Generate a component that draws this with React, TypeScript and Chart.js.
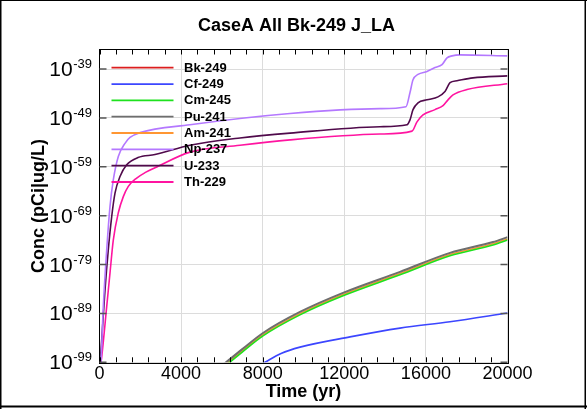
import { useEffect, useRef } from "react";
import { Chart, registerables } from "chart.js";

Chart.register(...registerables);

const FONT = "'Liberation Sans', Arial, Helvetica, sans-serif";

const TITLE = "CaseA All Bk-249 J_LA";
const X_LABEL = "Time (yr)";
const Y_LABEL = "Conc (pCi|ug/L)";

const SERIES_NAMES = ["Bk-249", "Cf-249", "Cm-245", "Pu-241", "Am-241", "Np-237", "U-233", "Th-229"];
const SERIES_COLORS = ["#dc1e1e", "#3c46ff", "#1ee11e", "#6e6e6e", "#ff9632", "#b478ff", "#500a4b", "#ff14a0"];

const X_TICKS = [0, 4000, 8000, 12000, 16000, 20000];
const X_MINOR_STEP = 800;
const Y_TICKS = [1e-99, 1e-89, 1e-79, 1e-69, 1e-59, 1e-49, 1e-39];
const Y_TICK_BASE = "10";
const Y_TICK_EXP = ["-99", "-89", "-79", "-69", "-59", "-49", "-39"];
const Y_MIN = 1e-99;
const Y_MAX = 1e-35;

// Bk-249 stays below the plotted range
const bk249Time = [0, 20000];
const bk249Conc = [1e-110, 1e-110];

const cf249Time = [7600, 8110, 8900, 9828, 12279, 14730, 17182, 20000];
const cf249Conc = [6.3e-101, 1e-99, 6.3e-98, 1.26e-96, 1.58e-94, 1e-92, 2e-91, 1.26e-89];

const cm245Time = [5800, 6200, 7000, 8015, 9828, 11936, 14730, 17182, 19290, 20000];
const cm245Conc = [1.58e-101, 2.5e-100, 1.26e-97, 2.5e-94, 5e-90, 4e-86, 7.9e-82, 6.3e-78, 1e-75, 1e-74];

const pu241Time = [5800, 6200, 7000, 8015, 9828, 11936, 14730, 17182, 19290, 20000];
const pu241Conc = [6.3e-101, 1e-99, 5e-97, 1e-93, 2e-89, 1.58e-85, 3.16e-81, 2.5e-77, 4e-75, 4e-74];

const am241Time = [5800, 6200, 7000, 8015, 9828, 11936, 14730, 17182, 19290, 20000];
const am241Conc = [2.8e-101, 4.5e-100, 2.24e-97, 4.5e-94, 8.9e-90, 7.1e-86, 1.41e-81, 1.12e-77, 1.78e-75, 1.78e-74];

const np237Time = [0, 74, 186, 353, 515, 676, 922, 1250, 1495, 1985, 4436, 9338, 13750, 15025, 15221, 15368, 15613, 16054, 16446, 16790, 17035, 17280, 17672, 20000];
const np237Conc = [1e-101, 2e-99, 2.5e-88, 1e-76, 7.9e-68, 2e-62, 1.26e-57, 6.3e-55, 1e-53, 1e-52, 4e-51, 7.9e-49, 7.9e-48, 2e-47, 1.58e-44, 6.3e-42, 7.9e-41, 3.16e-40, 2e-39, 7.9e-39, 2e-37, 5e-37, 7.9e-37, 5e-37];

const u233Time = [0, 108, 270, 431, 598, 760, 1005, 1333, 1887, 2720, 4436, 6887, 9338, 13750, 15074, 15221, 15368, 15613, 16054, 16593, 16936, 17182, 17525, 18309, 20000];
const u233Conc = [1e-101, 4e-95, 6.3e-85, 1e-76, 6.3e-70, 4e-65, 1e-61, 2.5e-59, 7.9e-58, 3.16e-57, 2.5e-55, 7.9e-54, 7.9e-53, 1.58e-51, 4e-51, 4e-50, 5e-48, 1.26e-46, 5e-46, 2e-45, 2.5e-44, 1.58e-42, 4e-42, 1.58e-41, 4e-41];

const th229Time = [0, 108, 353, 515, 676, 922, 1167, 1412, 1824, 2230, 2720, 4436, 6887, 9338, 13750, 15319, 15564, 15858, 16446, 16838, 17084, 17329, 18015, 20000];
const th229Conc = [1e-101, 1.26e-98, 2.5e-88, 2e-81, 1e-74, 4e-69, 7.9e-66, 1e-63, 5e-62, 6.3e-61, 6.3e-60, 1e-56, 2.5e-55, 3.16e-54, 5e-53, 2e-52, 1.58e-50, 4e-49, 5e-48, 3.16e-47, 5e-46, 5e-45, 6.3e-44, 1e-42];

const SERIES_TIMES = [bk249Time, cf249Time, cm245Time, pu241Time, am241Time, np237Time, u233Time, th229Time];
const SERIES_VALUES = [bk249Conc, cf249Conc, cm245Conc, pu241Conc, am241Conc, np237Conc, u233Conc, th229Conc];
const SERIES_WIDTHS = [1.6, 1.6, 1.6, 2, 1.6, 1.6, 1.6, 1.6];

const decorPlugin = {
  id: "decor",
  afterDraw(chart: any) {
    const { ctx, chartArea: a, scales } = chart;
    const xs = scales.x;
    const ys = scales.y;
    ctx.save();
    // plot frame
    ctx.strokeStyle = "#000";
    ctx.lineWidth = 1;
    ctx.strokeRect(Math.round(a.left) - 0.5, Math.round(a.top) - 0.5, Math.round(a.right - a.left) + 1, Math.round(a.bottom - a.top) + 1);
    // x ticks (inward, top and bottom)
    ctx.beginPath();
    for (let t = X_TICKS[0]; t <= X_TICKS[X_TICKS.length - 1]; t += X_MINOR_STEP) {
      const px = Math.round(xs.getPixelForValue(t)) + 0.5;
      ctx.moveTo(px, a.bottom);
      ctx.lineTo(px, a.bottom - 5);
      ctx.moveTo(px, a.top);
      ctx.lineTo(px, a.top + 5);
    }
    ctx.stroke();
    // y ticks (inward, left and right)
    ctx.beginPath();
    ctx.strokeStyle = "#555";
    ctx.lineWidth = 1.5;
    for (const v of Y_TICKS) {
      const py = ys.getPixelForValue(v);
      ctx.moveTo(a.left, py);
      ctx.lineTo(a.left + 7, py);
      ctx.moveTo(a.right, py);
      ctx.lineTo(a.right - 7, py);
    }
    ctx.stroke();
    // y tick labels with superscript exponents
    ctx.fillStyle = "#000";
    ctx.textBaseline = "alphabetic";
    Y_TICKS.forEach((v, i) => {
      const py = ys.getPixelForValue(v);
      ctx.font = `13px ${FONT}`;
      const ew = ctx.measureText(Y_TICK_EXP[i]).width;
      const right = 92;
      ctx.textAlign = "left";
      ctx.fillText(Y_TICK_EXP[i], right - ew, py - 1);
      ctx.font = `21px ${FONT}`;
      ctx.textAlign = "right";
      ctx.fillText(Y_TICK_BASE, right - ew - 0.5, py + 7);
    });
    // legend
    ctx.textAlign = "left";
    ctx.textBaseline = "middle";
    ctx.font = `bold 13px ${FONT}`;
    SERIES_NAMES.forEach((name, i) => {
      const ry = 67.7 + i * 16.33;
      ctx.strokeStyle = SERIES_COLORS[i];
      ctx.lineWidth = 1.8;
      ctx.beginPath();
      ctx.moveTo(111.5, ry);
      ctx.lineTo(173.5, ry);
      ctx.stroke();
      ctx.fillStyle = "#000";
      ctx.fillText(name, 184, ry + 0.5);
    });
    // outer frame
    ctx.fillStyle = "#000";
    ctx.fillRect(0, 0, chart.width, 1);
    ctx.fillRect(0, 0, 1.5, chart.height);
    ctx.fillRect(0, 405.5, chart.width, 2);
    ctx.fillRect(584.5, 0, 1.5, chart.height);
    ctx.restore();
  },
};

export default function App() {
  const canvasRef = useRef<HTMLCanvasElement | null>(null);

  useEffect(() => {
    const canvas = canvasRef.current;
    if (!canvas) return;
    const datasets = SERIES_NAMES.map((name, i) => ({
      label: name,
      data: SERIES_TIMES[i].map((t, j) => ({ x: t, y: SERIES_VALUES[i][j] })),
      borderColor: SERIES_COLORS[i],
      backgroundColor: SERIES_COLORS[i],
      borderWidth: SERIES_WIDTHS[i],
      pointRadius: 0,
      fill: false,
      cubicInterpolationMode: "monotone" as const,
      clip: 0,
    }));
    const chart = new Chart(canvas, {
      type: "line",
      data: { datasets },
      options: {
        animation: false,
        responsive: false,
        devicePixelRatio: 1,
        layout: { padding: { left: 6, right: 0, top: 0, bottom: 0 } },
        plugins: {
          legend: { display: false },
          tooltip: { enabled: false },
          title: {
            display: true,
            text: TITLE,
            color: "#000",
            font: { family: FONT, size: 18, weight: "bold" },
            padding: { top: 15, bottom: 12.9 },
          },
        },
        scales: {
          x: {
            type: "linear",
            min: X_TICKS[0],
            max: X_TICKS[X_TICKS.length - 1],
            afterBuildTicks: (s: any) => {
              s.ticks = X_TICKS.map((v) => ({ value: v }));
            },
            afterFit: (s: any) => {
              s.height = 46.7;
            },
            ticks: {
              color: "#000",
              font: { family: FONT, size: 18 },
              padding: 1,
              maxRotation: 0,
              autoSkip: false,
              callback: (v: any) => String(v),
            },
            grid: { color: "#dcdcdc", lineWidth: 1, drawTicks: false },
            border: { display: false },
            title: {
              display: true,
              text: X_LABEL,
              color: "#000",
              font: { family: FONT, size: 18, weight: "bold" },
              padding: { top: 0, bottom: 5.7 },
            },
          },
          y: {
            type: "logarithmic",
            min: Y_MIN,
            max: Y_MAX,
            afterBuildTicks: (s: any) => {
              s.ticks = Y_TICKS.map((v) => ({ value: v }));
            },
            afterFit: (s: any) => {
              s.width = 93.5;
            },
            ticks: { display: false },
            grid: { color: "#dcdcdc", lineWidth: 1, drawTicks: false },
            border: { display: false },
            title: {
              display: true,
              text: Y_LABEL,
              color: "#000",
              font: { family: FONT, size: 18, weight: "bold" },
              padding: { top: 22.2, bottom: 0 },
            },
          },
          yRight: {
            type: "linear",
            position: "right",
            display: true,
            ticks: { display: false },
            grid: { display: false, drawTicks: false },
            border: { display: false },
            afterFit: (s: any) => {
              s.width = 79.5;
            },
          },
        },
      },
      plugins: [decorPlugin],
    });
    return () => chart.destroy();
  }, []);

  return (
    <div style={{ position: "absolute", left: 0, top: 0, width: 587, height: 409, background: "#fff" }}>
      <canvas ref={canvasRef} width={587} height={409} style={{ width: 587, height: 409, display: "block" }} />
    </div>
  );
}
